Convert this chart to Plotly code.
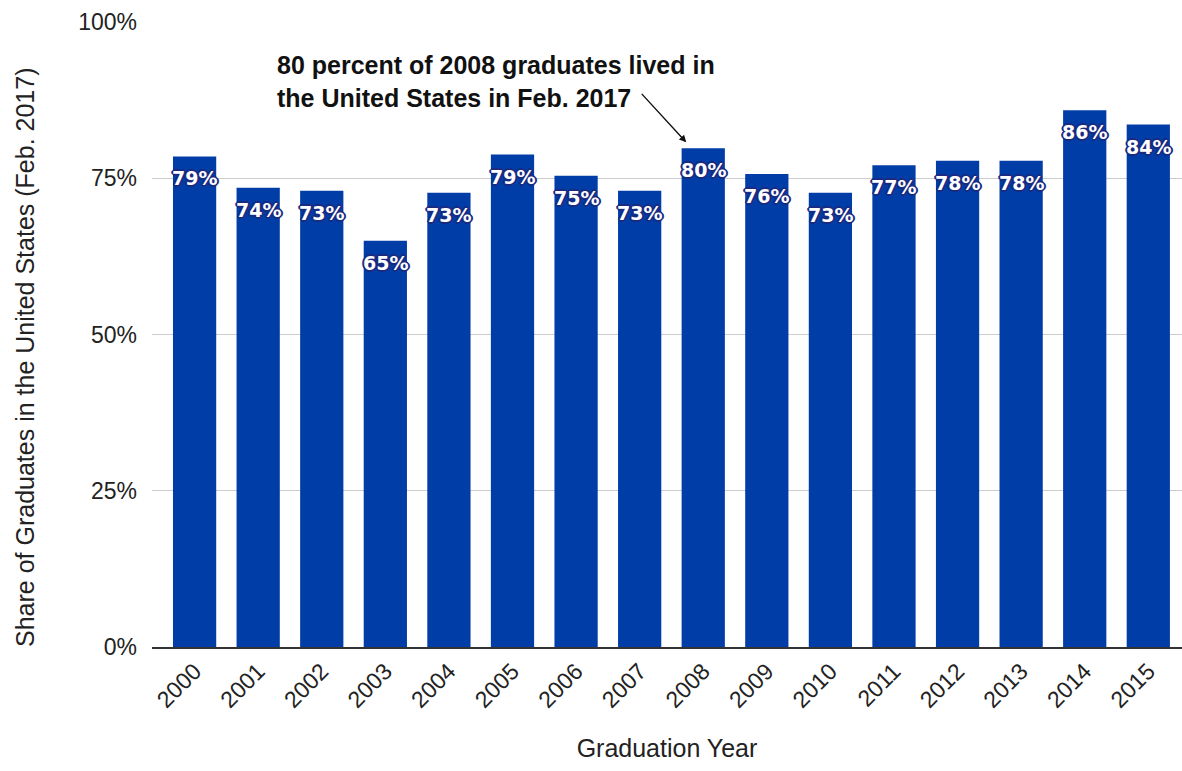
import plotly.graph_objects as go

years = ["2000", "2001", "2002", "2003", "2004", "2005", "2006", "2007",
         "2008", "2009", "2010", "2011", "2012", "2013", "2014", "2015"]
share = [78.5, 73.5, 73.0, 65.0, 72.7, 78.8, 75.4, 73.0,
         79.8, 75.7, 72.7, 77.1, 77.8, 77.8, 85.9, 83.6]
labels = ["79%", "74%", "73%", "65%", "73%", "79%", "75%", "73%",
          "80%", "76%", "73%", "77%", "78%", "78%", "86%", "84%"]
y_ticks = [0, 25, 50, 75, 100]
y_tick_text = ["0%", "25%", "50%", "75%", "100%"]

bar_color = "#003DA6"
outline = "#1a2a80"
shadow = ", ".join(f"{dx}px {dy}px 0 {outline}" for dx, dy in
                   [(1, 0), (-1, 0), (0, 1), (0, -1), (1, 1), (-1, -1), (1, -1), (-1, 1),
                    (2, 0), (-2, 0), (0, 2), (0, -2)])

fig = go.Figure()
fig.add_trace(go.Bar(
    x=years, y=share, marker=dict(color=bar_color, line=dict(width=0)),
    hoverinfo="skip", showlegend=False,
))

annotations = []
for i, (v, lab) in enumerate(zip(share, labels)):
    annotations.append(dict(
        x=i, y=v, xref="x", yref="y", text=f"<b>{lab}</b>", showarrow=False,
        yshift=-22, xanchor="center", yanchor="middle",
        font=dict(family="DejaVu Sans", size=19, color="white", shadow=shadow),
    ))

# callout arrow pointing at the 2008 bar
annotations.append(dict(
    x=8, y=share[8], xref="x", yref="y", text=" ", showarrow=True,
    arrowhead=2, arrowsize=1, arrowwidth=1.4, arrowcolor="#111",
    ax=-46, ay=-50, xshift=-17, yshift=6, standoff=0,
    font=dict(size=1),
))
annotations.append(dict(
    x=0.119, y=0.904, xref="paper", yref="paper",
    text="<b>80 percent of 2008 graduates lived in<br>the United States in Feb. 2017</b>",
    showarrow=False, xanchor="left", yanchor="middle", align="left",
    font=dict(family="Liberation Sans", size=25, color="#111"),
))
# y-axis title
annotations.append(dict(
    x=0, y=0.464, xref="paper", yref="paper", xshift=-127,
    text="Share of Graduates in the United States (Feb. 2017)", textangle=-90,
    showarrow=False, xanchor="center", yanchor="middle",
    font=dict(family="Liberation Sans", size=25, color="#222"),
))

fig.update_layout(
    width=1182, height=771,
    margin=dict(l=152, r=0, t=22, b=124),
    paper_bgcolor="white", plot_bgcolor="white",
    bargap=0.32,
    font=dict(family="Liberation Sans", size=23, color="#222"),
    annotations=annotations,
    xaxis=dict(
        type="category", range=[-0.67, 15.53], tickangle=-45,
        showgrid=False, showline=True, linecolor="#333", linewidth=1.5,
        ticks="", tickfont=dict(size=23, color="#222"),
        title=dict(text="Graduation Year", font=dict(size=25, color="#222"), standoff=28),
    ),
    yaxis=dict(
        range=[0, 100], tickvals=y_ticks, ticktext=y_tick_text,
        showgrid=True, gridcolor="#cccccc", gridwidth=1.2, zeroline=False,
        showline=False, ticks="", ticklabelstandoff=14,
        tickfont=dict(size=23, color="#222"),
    ),
)

fig.write_html("out.html")
